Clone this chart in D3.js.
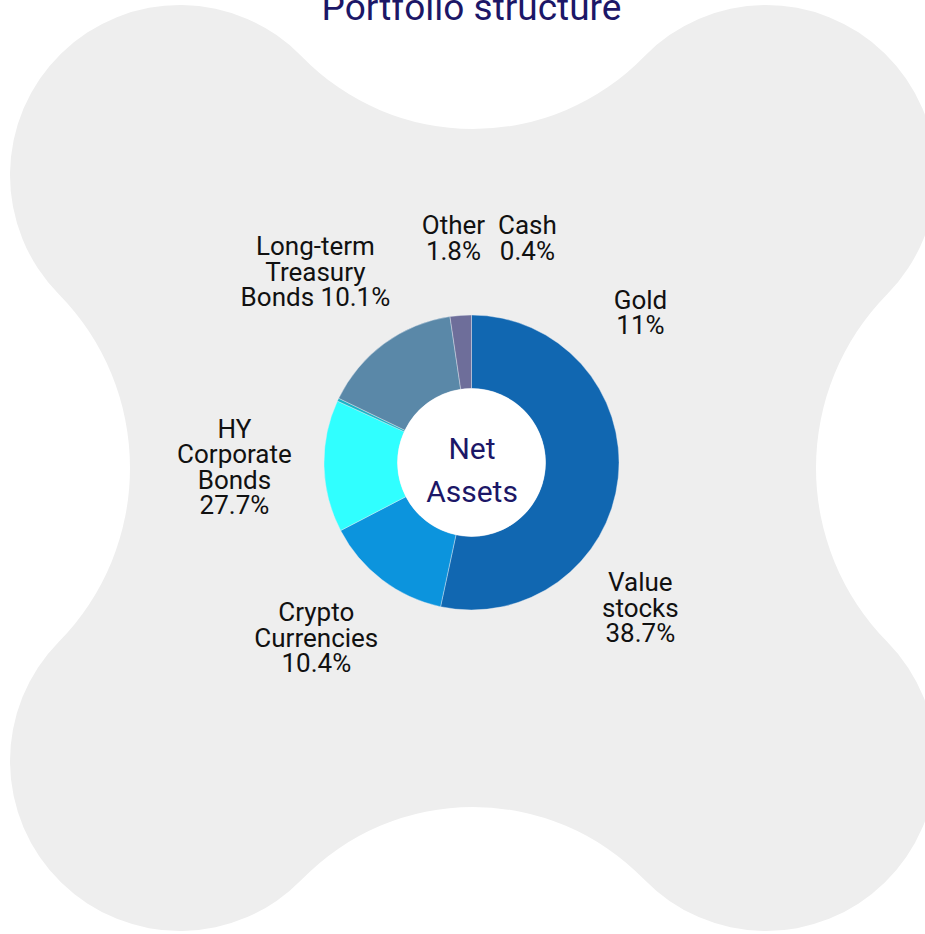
<!DOCTYPE html>
<html>
<head>
<meta charset="utf-8">
<script src="https://cdn.jsdelivr.net/npm/d3@7"></script>
<style>
  html, body { margin: 0; padding: 0; background: #ffffff; }
  svg { display: block; }
</style>
</head>
<body>
<div id="chart"></div>
<script>
// ---------- DATA ----------
const title = "Portfolio structure";
const centerLines = ["Net", "Assets"];

// slices, clockwise from 12 o'clock (share of the ring)
const sliceNames  = ["Value stocks", "Crypto Currencies", "HY Corporate Bonds", "Cash", "Long-term Treasury Bonds", "Other"];
const sliceValues = [53.36, 14.0, 14.47, 0.33, 15.5, 2.33];

// labels as printed
const labelNames  = ["Cash", "Gold", "Value stocks", "Crypto Currencies", "HY Corporate Bonds", "Long-term Treasury Bonds", "Other"];
const labelValues = ["0.4%", "11%", "38.7%", "10.4%", "27.7%", "10.1%", "1.8%"];
const labelLines  = [
  ["Cash", "0.4%"],
  ["Gold", "11%"],
  ["Value", "stocks", "38.7%"],
  ["Crypto", "Currencies", "10.4%"],
  ["HY", "Corporate", "Bonds", "27.7%"],
  ["Long-term", "Treasury", "Bonds 10.1%"],
  ["Other", "1.8%"]
];

// ---------- LAYOUT / STYLE ----------
const W = 925, H = 934;
const cx = 471.5, cy = 462.5;
const outerR = 147.5, innerR = 74;
const sliceColors = ["#1167b1", "#0c94dd", "#30ffff", "#1bb3c6", "#5a88a8", "#6e6e9a"];
const labelPolar = [ // [angle in degrees clockwise from top, distance from centre]
  [14.0, 231], [48.4, 226], [130.7, 222.7], [221.5, 234.2], [268.9, 237.1], [320.7, 246.4], [355.4, 224.9]
];
const navy = "#1c1767";
const fontFamily = "Roboto, 'Noto Sans', sans-serif";

const svg = d3.select("#chart").append("svg")
  .attr("width", W).attr("height", H)
  .attr("viewBox", `0 0 ${W} ${H}`);

// ---------- BACKGROUND BLOB ----------
(function drawBlob() {
  const bx = 473, by = 468, d = 293, r = 170, ey = 339, ex = 343;
  const solveR = (e) => (d * d + (e - d) * (e - d) - r * r) / (2 * (r - (e - d)));
  const Ry = solveR(ey), Rx = solveR(ex);
  const TL = [bx - d, by - d], TR = [bx + d, by - d], BR = [bx + d, by + d], BL = [bx - d, by + d];
  const T = [bx, by - ey - Ry], B = [bx, by + ey + Ry];
  const L = [bx - ex - Rx, by], Rr = [bx + ex + Rx, by];
  const ang = (a, b) => Math.atan2(b[1] - a[1], b[0] - a[0]);
  const norm = (a0, a1) => { while (a1 < a0) a1 += 2 * Math.PI; return a1; };
  const p = d3.path();
  // TL lobe
  let a0 = ang(TL, L), a1 = norm(a0, ang(TL, T));
  p.moveTo(TL[0] + r * Math.cos(a0), TL[1] + r * Math.sin(a0));
  p.arc(TL[0], TL[1], r, a0, a1, false);
  p.arc(T[0], T[1], Ry, ang(T, TL), ang(T, TR), true);
  a0 = ang(TR, T); a1 = norm(a0, ang(TR, Rr));
  p.arc(TR[0], TR[1], r, a0, a1, false);
  p.arc(Rr[0], Rr[1], Rx, ang(Rr, TR), ang(Rr, BR), true);
  a0 = ang(BR, Rr); a1 = norm(a0, ang(BR, B));
  p.arc(BR[0], BR[1], r, a0, a1, false);
  p.arc(B[0], B[1], Ry, ang(B, BR), ang(B, BL), true);
  a0 = ang(BL, B); a1 = norm(a0, ang(BL, L));
  p.arc(BL[0], BL[1], r, a0, a1, false);
  p.arc(L[0], L[1], Rx, ang(L, BL), ang(L, TL), true);
  p.closePath();
  svg.append("path").attr("d", p.toString()).attr("fill", "#eeeeee");
})();

// ---------- TITLE ----------
svg.append("text")
  .attr("x", 471.5).attr("y", 19.5)
  .attr("text-anchor", "middle")
  .attr("font-family", fontFamily)
  .attr("font-size", 37)
  .attr("fill", navy)
  .text(title);

// ---------- DONUT ----------
const pie = d3.pie().sort(null).value(d => d.value).startAngle(0).endAngle(2 * Math.PI);
const arc = d3.arc().innerRadius(innerR).outerRadius(outerR);
const color = d3.scaleOrdinal().domain(sliceNames).range(sliceColors);
const slices = sliceNames.map((n, i) => ({ name: n, value: sliceValues[i] }));

const g = svg.append("g").attr("transform", `translate(${cx},${cy})`);
g.selectAll("path.slice")
  .data(pie(slices))
  .join("path")
  .attr("class", "slice")
  .attr("d", arc)
  .attr("fill", d => color(d.data.name))
  .attr("stroke", "#e8eef4")
  .attr("stroke-width", 0.4);

g.append("circle").attr("r", innerR).attr("fill", "#ffffff");

// centre text
g.selectAll("text.center")
  .data(centerLines)
  .join("text")
  .attr("class", "center")
  .attr("x", 0.5)
  .attr("y", (d, i) => -3.5 + i * 43)
  .attr("text-anchor", "middle")
  .attr("font-family", fontFamily)
  .attr("font-size", 30)
  .attr("fill", navy)
  .text(d => d);

// ---------- LABELS ----------
const lh = 25.6, capHalf = 8.9;
const labelArc = d3.arc();
labelLines.forEach((lines, i) => {
  const [deg, rad] = labelPolar[i];
  const a = deg * Math.PI / 180;
  const [lx, ly] = labelArc.centroid({ innerRadius: rad, outerRadius: rad, startAngle: a, endAngle: a });
  const first = ly - (lines.length - 1) * lh / 2 + capHalf;
  const t = g.append("text")
    .attr("text-anchor", "middle")
    .attr("font-family", fontFamily)
    .attr("font-size", 26)
    .attr("fill", "#111111")
    .attr("data-name", labelNames[i])
    .attr("data-value", labelValues[i]);
  lines.forEach((line, j) => {
    t.append("tspan").attr("x", lx).attr("y", first + j * lh).text(line);
  });
});
</script>
</body>
</html>
